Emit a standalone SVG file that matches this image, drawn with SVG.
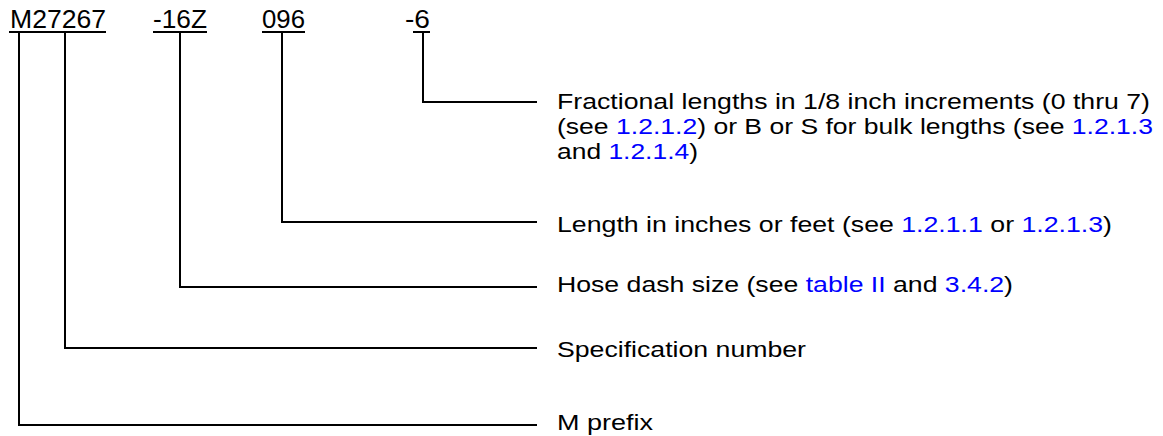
<svg xmlns="http://www.w3.org/2000/svg" width="1163" height="436" viewBox="0 0 1163 436">
<style>
text{font-family:"Liberation Sans",Arial,sans-serif;fill:#000}
.code{font-size:26px}
.lbl{font-size:22px}
.lk{fill:#0000ff}
.ln{stroke:#000;stroke-width:2;fill:none}
</style>
<rect width="1163" height="436" fill="#fff"/>
<g id="code-m27267">
<text class="code" x="10" y="28" textLength="96" lengthAdjust="spacingAndGlyphs">M27267</text>
<line class="ln" x1="9" y1="32" x2="106" y2="32"/>
</g>
<g id="code-16z">
<text class="code" x="153" y="28" textLength="54" lengthAdjust="spacingAndGlyphs">-16Z</text>
<line class="ln" x1="153" y1="32" x2="207" y2="32"/>
</g>
<g id="code-096">
<text class="code" x="262" y="28" textLength="43" lengthAdjust="spacingAndGlyphs">096</text>
<line class="ln" x1="262" y1="32" x2="305" y2="32"/>
</g>
<g id="code-6">
<text class="code" x="405" y="28" textLength="25" lengthAdjust="spacingAndGlyphs">-6</text>
<line class="ln" x1="413" y1="32" x2="430" y2="32"/>
</g>
<g id="label-fractional">
<text class="lbl" x="557" y="109" textLength="593" lengthAdjust="spacingAndGlyphs">Fractional lengths in 1/8 inch increments (0 thru 7)</text>
<text class="lbl" x="557" y="134" textLength="596" lengthAdjust="spacingAndGlyphs">(see <tspan class="lk">1.2.1.2</tspan>) or B or S for bulk lengths (see <tspan class="lk">1.2.1.3</tspan></text>
<text class="lbl" x="557" y="159" textLength="141" lengthAdjust="spacingAndGlyphs">and <tspan class="lk">1.2.1.4</tspan>)</text>
</g>
<g id="label-length">
<text class="lbl" x="557" y="232" textLength="555" lengthAdjust="spacingAndGlyphs">Length in inches or feet (see <tspan class="lk">1.2.1.1</tspan> or <tspan class="lk">1.2.1.3</tspan>)</text>
</g>
<g id="label-hose">
<text class="lbl" x="557" y="292" textLength="456" lengthAdjust="spacingAndGlyphs">Hose dash size (see <tspan class="lk">table II</tspan> and <tspan class="lk">3.4.2</tspan>)</text>
</g>
<g id="label-spec">
<text class="lbl" x="557" y="357" textLength="249" lengthAdjust="spacingAndGlyphs">Specification number</text>
</g>
<g id="label-mprefix">
<text class="lbl" x="557" y="430" textLength="96" lengthAdjust="spacingAndGlyphs">M prefix</text>
</g>
<g id="connectors">
<polyline class="ln" points="423,32 423,102 537,102"/>
<polyline class="ln" points="282,32 282,222 537,222"/>
<polyline class="ln" points="180,32 180,287 537,287"/>
<polyline class="ln" points="65,32 65,348 537,348"/>
<polyline class="ln" points="19,32 19,425 537,425"/>
</g>
</svg>
